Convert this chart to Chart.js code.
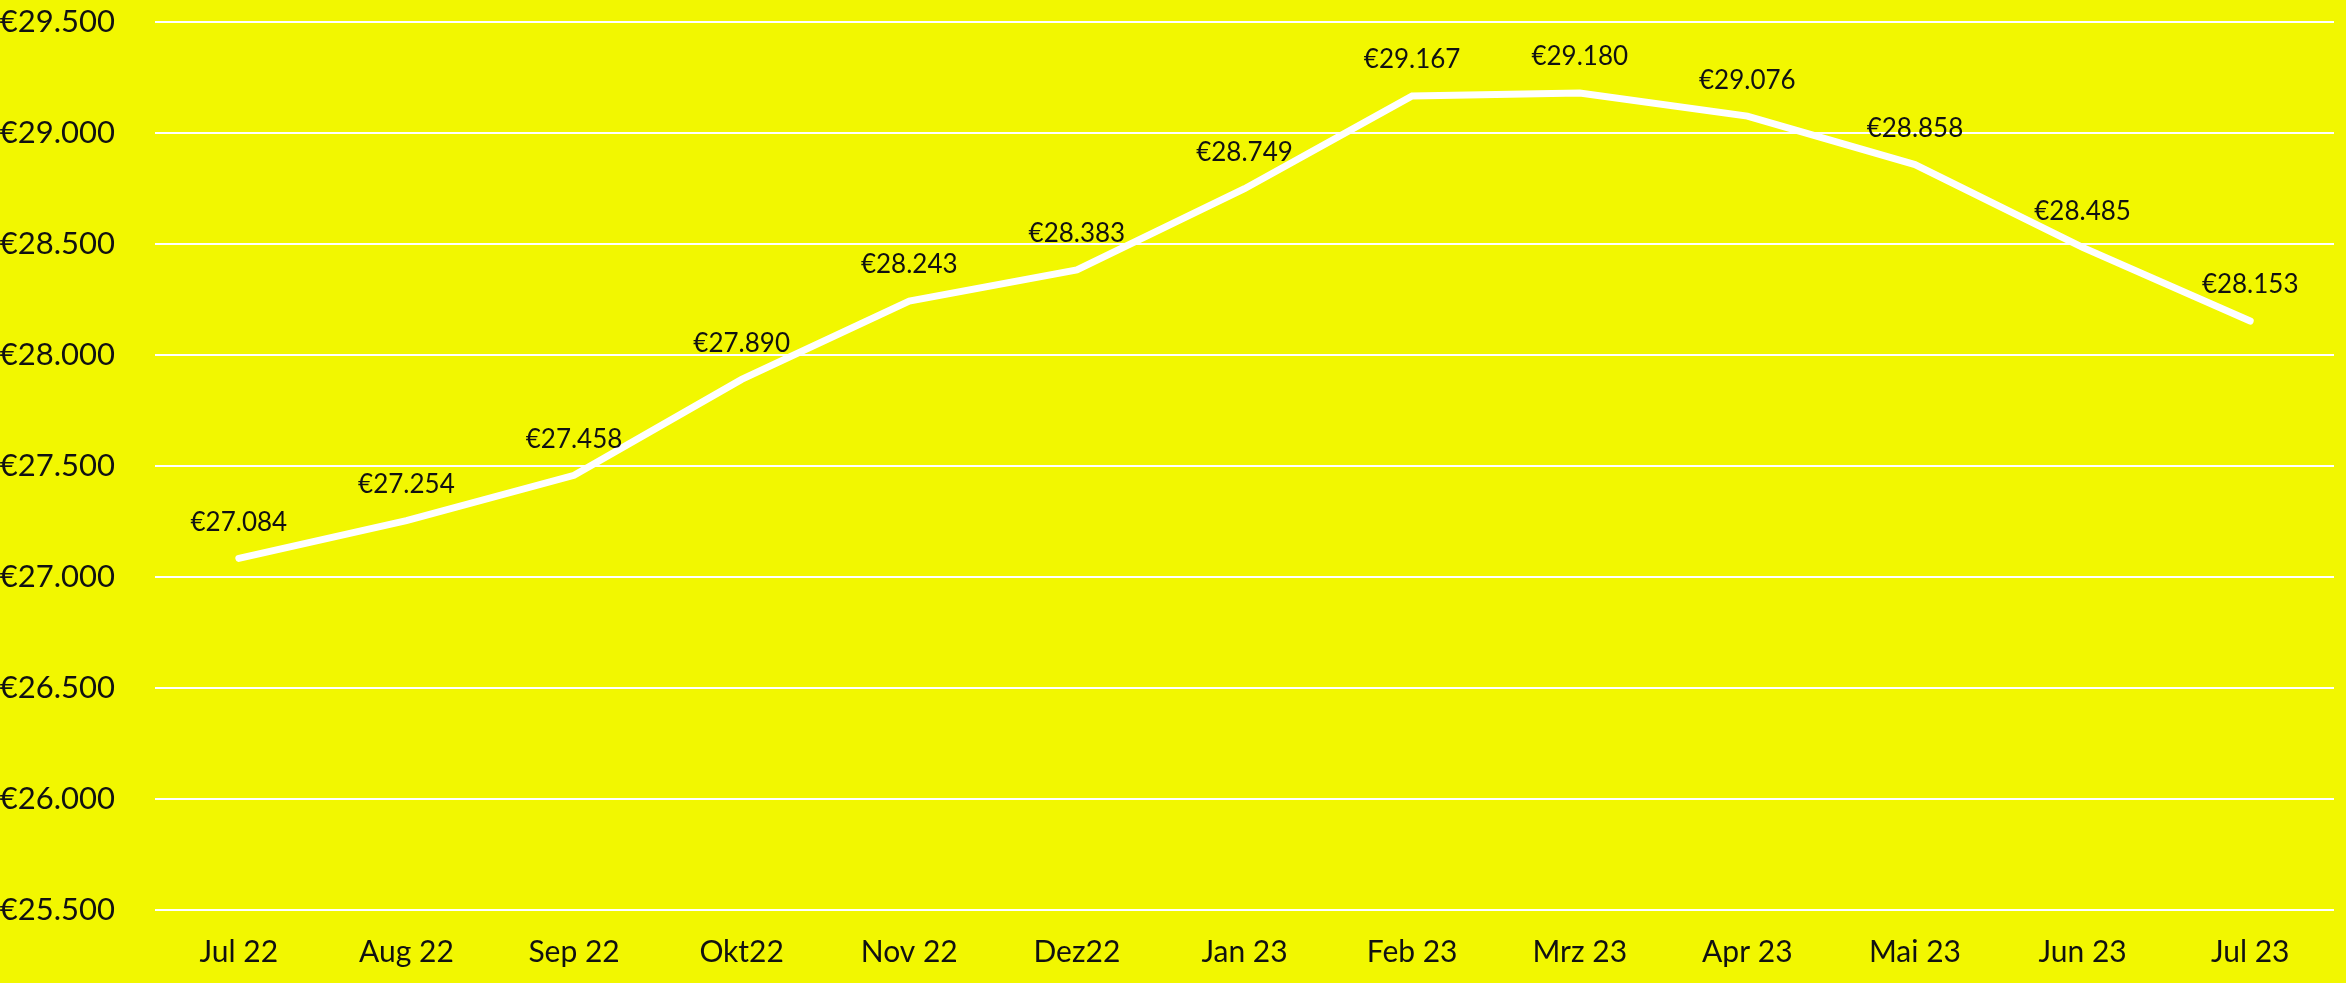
<!DOCTYPE html>
<html>
<head>
<meta charset="utf-8">
<script src="https://cdn.jsdelivr.net/npm/chart.js@4/dist/chart.umd.min.js"></script>
<style>
  html, body { margin: 0; padding: 0; background: #F2F700; }
  #wrap { width: 2346px; height: 983px; position: relative; }
</style>
</head>
<body>
<div id="wrap"><canvas id="c"></canvas></div>
<script>
const categories = ["Jul 22", "Aug 22", "Sep 22", "Okt22", "Nov 22", "Dez22", "Jan 23", "Feb 23", "Mrz 23", "Apr 23", "Mai 23", "Jun 23", "Jul 23"];
const values = [27084, 27254, 27458, 27890, 28243, 28383, 28749, 29167, 29180, 29076, 28858, 28485, 28153];
const yMin = 25500;
const yMax = 29500;
const yStep = 500;

function euro(v) {
  const s = Math.round(v).toString().replace(/\B(?=(\d{3})+(?!\d))/g, ".");
  return "€" + s;
}

const FONT = "Lato";

const labelPlugin = {
  id: "valueLabels",
  afterDatasetsDraw(chart) {
    const ctx = chart.ctx;
    const meta = chart.getDatasetMeta(0);
    ctx.save();
    ctx.font = "26px " + FONT;
    ctx.fillStyle = "#111111";
    ctx.textAlign = "center";
    ctx.textBaseline = "middle";
    meta.data.forEach((pt, i) => {
      ctx.fillText(euro(values[i]), pt.x, pt.y - 36);
    });
    ctx.restore();
  }
};

new Chart(document.getElementById("c"), {
  type: "line",
  data: {
    labels: categories,
    datasets: [{
      data: values,
      borderColor: "#FFFFFF",
      borderWidth: 7,
      borderCapStyle: "round",
      borderJoinStyle: "miter",
      pointRadius: 0,
      pointHoverRadius: 0,
      tension: 0,
      fill: false
    }]
  },
  options: {
    responsive: true,
    maintainAspectRatio: false,
    animation: false,
    layout: { padding: { top: 22, right: 12, bottom: 0, left: 0 } },
    plugins: { legend: { display: false }, tooltip: { enabled: false } },
    scales: {
      x: {
        offset: true,
        grid: { display: false, drawTicks: false },
        border: { display: false },
        ticks: { color: "#111111", font: { family: FONT, size: 30 }, padding: 24, maxRotation: 0, autoSkip: false },
        afterFit(scale) { scale.height = 73; scale.paddingLeft = 0; scale.paddingRight = 0; }
      },
      y: {
        min: yMin,
        max: yMax,
        grid: { color: "#FFFFFF", lineWidth: 2, drawTicks: false },
        border: { display: false },
        ticks: {
          stepSize: yStep,
          color: "#111111",
          font: { family: FONT, size: 31 },
          crossAlign: "near",
          padding: 40,
          callback: (v) => euro(v)
        },
        afterFit(scale) { scale.width = 155; scale.paddingTop = 0; scale.paddingBottom = 0; }
      }
    }
  },
  plugins: [labelPlugin]
});
</script>
</body>
</html>
